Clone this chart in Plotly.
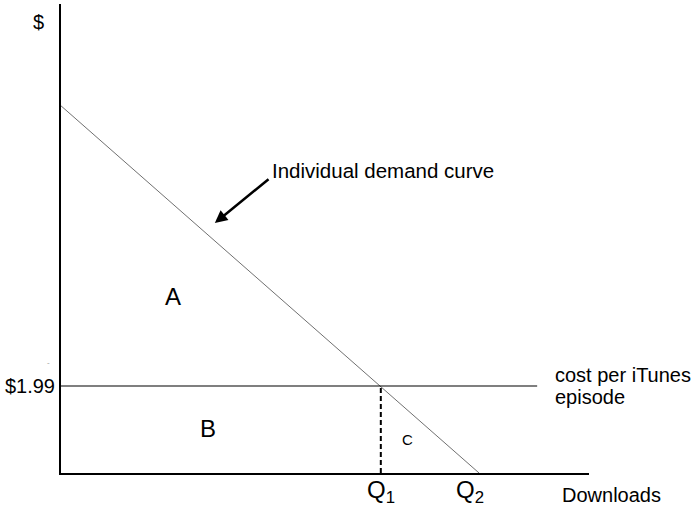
"""Consumer surplus diagram: individual demand for iTunes episodes."""

import plotly.graph_objects as go

FONT = "Arial, Liberation Sans, sans-serif"

# demand curve endpoints (quantity, price)
demand_q = [0, 10]
demand_p = [8.4, 0]

# price per episode and the quantities it implies
price = 1.99
price_label = "$1.99"
q1 = 7.65
q2 = 10
price_line_q = [0, 11.39]

x_max = 12.63
y_max = 10.73

fig = go.Figure()

# demand curve
fig.add_trace(go.Scatter(x=demand_q, y=demand_p, mode="lines",
                         line=dict(color="#707070", width=1), hoverinfo="skip"))
# price line
fig.add_trace(go.Scatter(x=price_line_q, y=[price, price], mode="lines",
                         line=dict(color="black", width=1.2), hoverinfo="skip"))
# dashed drop from the intersection to Q1
fig.add_trace(go.Scatter(x=[q1, q1], y=[0, price], mode="lines",
                         line=dict(color="black", width=2, dash="5px,3px"), hoverinfo="skip"))


def label(x, y, text, size=20, xanchor="center", yanchor="middle", color="black"):
    # paper refs so labels outside the axis ranges still show
    fig.add_annotation(x=x / x_max, y=y / y_max, xref="paper", yref="paper",
                       text=text, showarrow=False, xanchor=xanchor, yanchor=yanchor,
                       font=dict(family=FONT, size=size, color=color))


label(-0.55, 10.32, "$")
label(2.68, 4.03, "A", size=24)
label(3.52, 1.01, "B", size=24)
label(8.30, 0.76, "C", size=15)
label(q1, -0.42, "Q<sub>1</sub>", size=24)
label(9.78, -0.42, "Q<sub>2</sub>", size=24)
label(11.77, 2.24, "cost per iTunes", xanchor="left")
label(11.77, 1.74, "episode", xanchor="left")
label(13.18, -0.50, "Downloads")
label(-0.29, 2.52, "-", size=8, color="#999999")
label(5.0, 6.91, "Individual demand curve", size=20.5, xanchor="left")

# arrow pointing at the demand curve
fig.add_annotation(x=3.68, y=5.72, ax=5.0, ay=6.75, xref="x", yref="y",
                   axref="x", ayref="y", text="", showarrow=True,
                   arrowhead=2, arrowsize=1, arrowwidth=2.5, arrowcolor="black")

fig.update_layout(
    width=693, height=508,
    margin=dict(l=61, r=104, t=4, b=35),
    paper_bgcolor="white", plot_bgcolor="white",
    showlegend=False,
    font=dict(family=FONT, size=20, color="black"),
)
fig.update_xaxes(range=[0, x_max], showline=True, linecolor="black", linewidth=2,
                 showgrid=False, zeroline=False, showticklabels=False, ticks="")
fig.update_yaxes(range=[0, y_max], showline=True, linecolor="black", linewidth=2,
                 showgrid=False, zeroline=False, ticks="",
                 tickvals=[price], ticktext=[price_label],
                 tickfont=dict(family=FONT, size=20, color="black"))

fig.write_html("out.html", config={"displayModeBar": False},
               post_script="document.body.style.margin='0';")
